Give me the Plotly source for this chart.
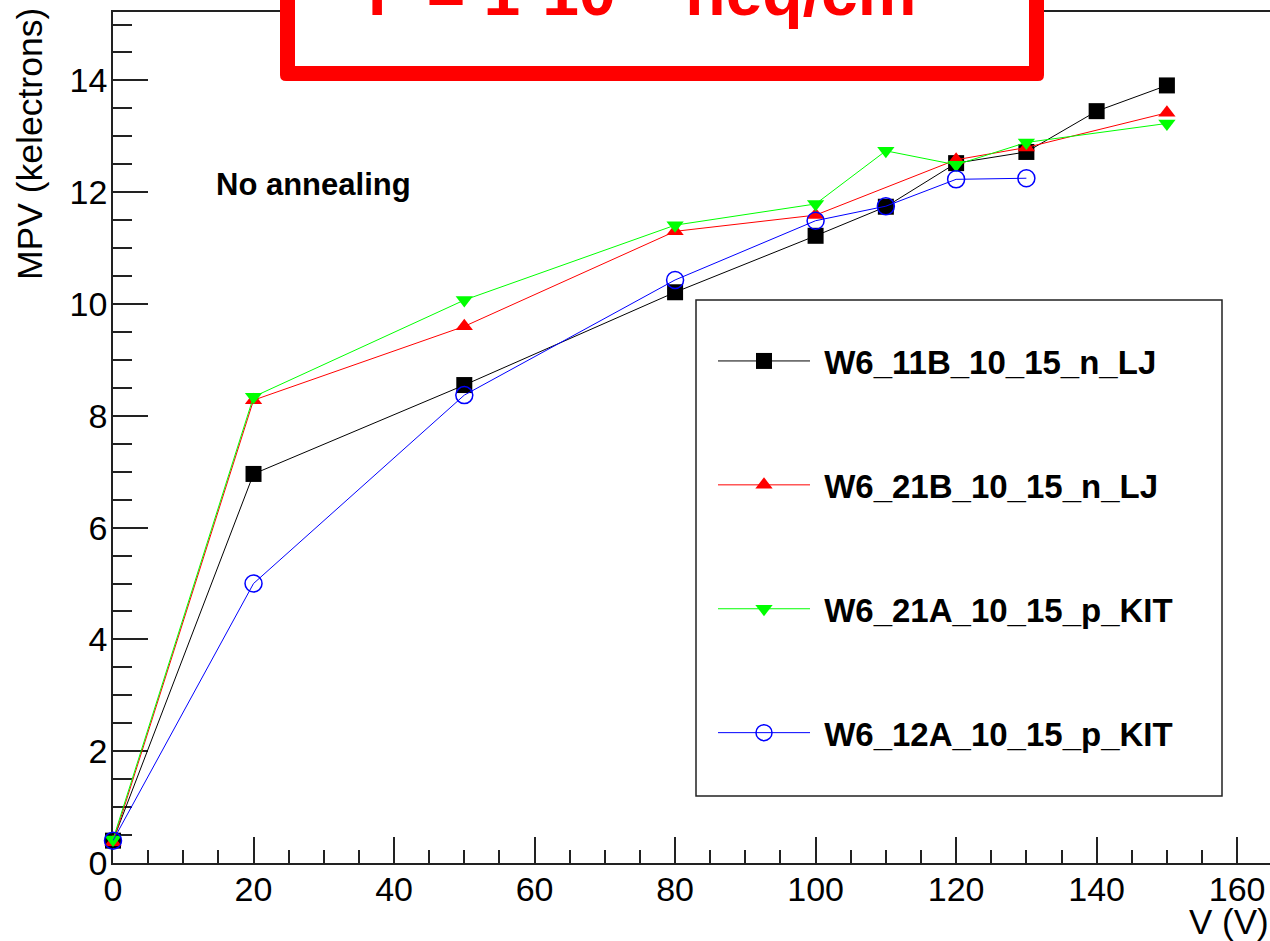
import plotly.graph_objects as go

# Bias voltage (V) and most probable value (kelectrons) per sensor
voltages_11B = [0, 20, 50, 80, 100, 110, 120, 130, 140, 150]
mpv_11B = [0.40, 6.96, 8.55, 10.21, 11.22, 11.74, 12.52, 12.72, 13.45, 13.91]

voltages_21B = [0, 20, 50, 80, 100, 120, 130, 150]
mpv_21B = [0.37, 8.28, 9.60, 11.30, 11.59, 12.58, 12.80, 13.42]

voltages_21A = [0, 20, 50, 80, 100, 110, 120, 130, 150]
mpv_21A = [0.42, 8.34, 10.07, 11.41, 11.79, 12.74, 12.49, 12.89, 13.23]

voltages_12A = [0, 20, 50, 80, 100, 110, 120, 130]
mpv_12A = [0.40, 5.00, 8.37, 10.43, 11.49, 11.75, 12.23, 12.25]

sensor_names = ["W6_11B_10_15_n_LJ", "W6_21B_10_15_n_LJ",
                "W6_21A_10_15_p_KIT", "W6_12A_10_15_p_KIT"]

x_ticks = [0, 20, 40, 60, 80, 100, 120, 140, 160]
y_ticks = [0, 2, 4, 6, 8, 10, 12, 14]

# Page and frame geometry (pixels)
W, H = 1270, 941
ML, MR, MT, MB = 113, 0, 12, 78
PW, PH = W - ML - MR, H - MT - MB
PX_PER_V = 7.026
PX_PER_KE = 55.9


def px(x):
    return (x - ML) / PW


def py(y):
    return (H - MB - y) / PH


FONT = "Liberation Sans, Arial, sans-serif"
AXIS_COLOR = "#222222"

series = [
    (voltages_11B, mpv_11B, "black", dict(symbol="square", size=16, color="black")),
    (voltages_21B, mpv_21B, "#ff0000", dict(symbol="triangle-up", size=15, color="#ff0000")),
    (voltages_21A, mpv_21A, "#00ff00", dict(symbol="triangle-down", size=15, color="#00ff00")),
    (voltages_12A, mpv_12A, "#0000ff", dict(symbol="circle-open", size=17, color="#0000ff",
                                            line=dict(width=1.5, color="#0000ff"))),
]

fig = go.Figure()
for i, ((xs, ys, col, mk), name) in enumerate(zip(series, sensor_names)):
    fig.add_trace(go.Scatter(
        x=xs, y=ys, name="\u00a0" + name, mode="lines+markers",
        line=dict(color=col, width=1), marker=mk,
        cliponaxis=False, legendgroup=f"g{i}",
    ))

axis_common = dict(
    showline=True, linecolor=AXIS_COLOR, linewidth=1.5,
    ticks="inside", tickwidth=1.5, tickcolor=AXIS_COLOR,
    showgrid=False, zeroline=False, layer="below traces",
    tickfont=dict(family=FONT, size=34, color="black"),
)

fig.update_layout(
    width=W, height=H,
    margin=dict(l=ML, r=MR, t=MT, b=MB, pad=0),
    paper_bgcolor="white", plot_bgcolor="white",
    xaxis=dict(range=[0, PW / PX_PER_V], tickvals=x_ticks, ticklen=26,
               mirror=True, ticklabelstandoff=-5,
               minor=dict(ticks="inside", dtick=5, ticklen=13, tickwidth=1.5,
                          tickcolor=AXIS_COLOR),
               **axis_common),
    yaxis=dict(range=[0, PH / PX_PER_KE], tickvals=y_ticks, ticklen=35,
               ticklabelstandoff=-3,
               minor=dict(ticks="inside", dtick=0.5, ticklen=19, tickwidth=1.5,
                          tickcolor=AXIS_COLOR),
               **axis_common),
    showlegend=True,
    legend=dict(
        x=px(713), y=py(333), xanchor="left", yanchor="top",
        bgcolor="rgba(0,0,0,0)", borderwidth=0,
        font=dict(family=FONT, size=33, color="black", weight="bold"),
        itemwidth=92, tracegroupgap=78, traceorder="grouped",
    ),
)

# Legend frame
fig.add_shape(type="rect", xref="paper", yref="paper",
              x0=px(696), x1=px(1222), y0=py(796), y1=py(300),
              line=dict(color=AXIS_COLOR, width=1.5), layer="above")


# Red rounded box at the top (outer red, inner white)
def rounded_path(x0, x1, y0, y1, r):
    rx, ry = r / PW, r / PH
    X0, X1, Y0, Y1 = px(x0), px(x1), py(y1), py(y0)  # Y0 bottom, Y1 top (paper)
    return (f"M{X0+rx},{Y0} L{X1-rx},{Y0} Q{X1},{Y0} {X1},{Y0+ry} "
            f"L{X1},{Y1} L{X0},{Y1} L{X0},{Y0+ry} Q{X0},{Y0} {X0+rx},{Y0} Z")


fig.add_shape(type="path", xref="paper", yref="paper",
              path=rounded_path(280, 1044, -20, 81, 6),
              fillcolor="#ff0000", line=dict(width=0), layer="above")
fig.add_shape(type="rect", xref="paper", yref="paper",
              x0=px(295), x1=px(1029), y0=py(66), y1=py(-20),
              fillcolor="white", line=dict(width=0), layer="above")

fig.add_annotation(
    xref="paper", yref="paper", x=px(366), y=py(31),
    xanchor="left", yanchor="bottom", showarrow=False,
    text="F = 1·10<sup>15</sup> neq/cm<sup>2</sup>",
    font=dict(family=FONT, size=66, color="#ff0000", weight="bold"),
)

fig.add_annotation(
    xref="paper", yref="paper", x=px(214), y=py(185),
    xanchor="left", yanchor="middle", showarrow=False,
    text="No annealing",
    font=dict(family=FONT, size=31, color="black", weight="bold"),
)

# Axis titles
fig.add_annotation(
    xref="paper", yref="paper", x=px(1271), y=py(921),
    xanchor="right", yanchor="middle", showarrow=False,
    text="V (V)", font=dict(family=FONT, size=35, color="black"),
)
fig.add_annotation(
    xref="paper", yref="paper", x=px(30), y=py(6),
    xanchor="center", yanchor="top", showarrow=False, textangle=-90,
    text="MPV (kelectrons)", font=dict(family=FONT, size=35.5, color="black"),
)

fig.write_html("out.html")
